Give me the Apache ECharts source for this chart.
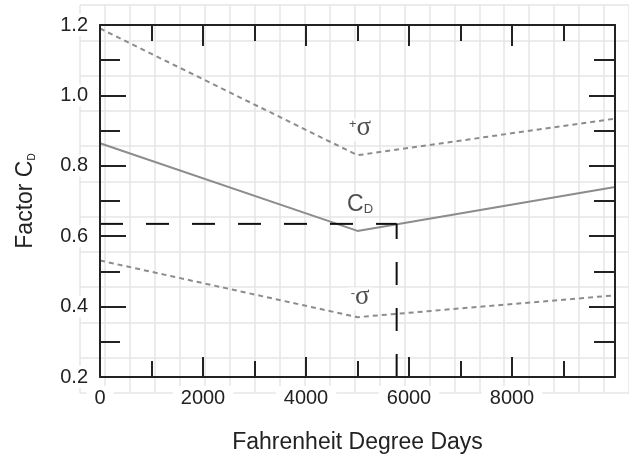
<!DOCTYPE html>
<html>
<head>
<meta charset="utf-8">
<script src="https://cdn.jsdelivr.net/npm/echarts@6/dist/echarts.min.js"></script>
<style>
html, body { margin: 0; padding: 0; background: #fff; }
#chart { width: 629px; height: 459px; }
</style>
</head>
<body>
<div id="chart"></div>
<script>
// 数据：横轴为华氏度日，纵轴为系数 CD
const degreeDays = [0, 5000, 10000];
const factorCD = [0.864, 0.615, 0.74];
const plusSigma = [1.19, 0.83, 0.934];
const minusSigma = [0.531, 0.37, 0.432];
// 读数示例（虚线）
const readDays = 5760;
const readFactor = 0.635;
// 曲线旁的标注
const noteTexts = ['{sup|+}{s|σ}', '{c|C}{sub|D}', '{sup|-}{s|σ}'];
const noteDays = [5050, 5050, 5050];
const noteFactor = [0.903, 0.690, 0.422];
// 横轴显示的刻度文字
const xLabels = [0, 2000, 4000, 6000, 8000];

const ink = '#222';
const font = '"Liberation Sans", Arial, sans-serif';

const pairs = (xs, ys) => xs.map((x, i) => [x, ys[i]]);

const chart = echarts.init(document.getElementById('chart'), null, { renderer: 'canvas' });

// 坐标轴公共样式（边框、朝内的刻度）
function frameAxis(extra) {
    return Object.assign({
        type: 'value',
        gridIndex: 0,
        z: 3,
        axisLine: { show: true, onZero: false, lineStyle: { color: ink, width: 2 } },
        splitLine: { show: false }
    }, extra);
}

const option = {
    animation: false,
    backgroundColor: '#fff',
    grid: [
        { left: 96, top: 25, right: 14, bottom: 80 },
        // 背景方格纸
        { left: 80, top: 5, width: 555.3, height: 388 }
    ],
    xAxis: [
        frameAxis({
            position: 'bottom',
            min: 0, max: 10000, interval: 2000,
            axisTick: { show: true, inside: true, length: 20, lineStyle: { color: ink, width: 2 } },
            minorTick: { show: true, splitNumber: 2, length: 16, lineStyle: { color: ink, width: 2 } },
            axisLabel: {
                margin: 9,
                color: ink, fontSize: 20, fontFamily: font,
                backgroundColor: '#fff', padding: [2, 8],
                formatter: v => xLabels.indexOf(v) >= 0 ? String(v) : ''
            },
            name: 'Fahrenheit Degree Days',
            nameLocation: 'middle',
            nameGap: 54,
            nameTextStyle: { color: ink, fontSize: 23, fontFamily: font }
        }),
        frameAxis({
            position: 'top',
            min: 0, max: 10000, interval: 2000,
            axisTick: { show: true, inside: true, length: 21, lineStyle: { color: ink, width: 2 } },
            minorTick: { show: true, splitNumber: 2, length: 16, lineStyle: { color: ink, width: 2 } },
            axisLabel: { show: false }
        }),
        {
            type: 'value', gridIndex: 1, min: 0, max: 22, interval: 1, z: 0,
            axisLine: { show: false }, axisTick: { show: false }, axisLabel: { show: false },
            splitLine: { show: true, lineStyle: { color: '#e6e6e6', width: 1.5 } }
        }
    ],
    yAxis: [
        frameAxis({
            position: 'left',
            min: 0.2, max: 1.2, interval: 0.2,
            axisTick: { show: true, inside: true, length: 26, lineStyle: { color: ink, width: 2 } },
            minorTick: { show: true, splitNumber: 2, length: 20, lineStyle: { color: ink, width: 2 } },
            axisLabel: {
                margin: 9,
                color: ink, fontSize: 20, fontFamily: font,
                backgroundColor: '#fff', padding: [1, 3],
                formatter: v => v.toFixed(1)
            },
            name: '{m|Factor C}{sub|D}',
            nameLocation: 'middle',
            nameRotate: 90,
            nameGap: 63,
            nameTextStyle: {
                rich: {
                    m: { fontSize: 23, fontFamily: font, color: ink, lineHeight: 23, verticalAlign: 'top' },
                    sub: { fontSize: 10, fontFamily: font, color: ink, lineHeight: 10, padding: [19, 0, 0, 0], verticalAlign: 'bottom' }
                }
            }
        }),
        frameAxis({
            position: 'right',
            min: 0.2, max: 1.2, interval: 0.2,
            axisTick: { show: true, inside: true, length: 26, lineStyle: { color: ink, width: 2 } },
            minorTick: { show: true, splitNumber: 2, length: 21, lineStyle: { color: ink, width: 2 } },
            axisLabel: { show: false }
        }),
        {
            type: 'value', gridIndex: 1, min: 0, max: 11, interval: 1, z: 0,
            axisLine: { show: false }, axisTick: { show: false }, axisLabel: { show: false },
            splitLine: { show: true, lineStyle: { color: '#e6e6e6', width: 1.5 } }
        }
    ],
    series: [
        {
            name: '+σ', type: 'line', xAxisIndex: 0, yAxisIndex: 0,
            data: pairs(degreeDays, plusSigma), showSymbol: false, symbol: 'none',
            lineStyle: { color: '#8c8c8c', width: 2, type: [5, 4] }, z: 2
        },
        {
            name: 'CD', type: 'line', xAxisIndex: 0, yAxisIndex: 0,
            data: pairs(degreeDays, factorCD), showSymbol: false, symbol: 'none',
            lineStyle: { color: '#8c8c8c', width: 2 }, z: 2
        },
        {
            name: '-σ', type: 'line', xAxisIndex: 0, yAxisIndex: 0,
            data: pairs(degreeDays, minusSigma), showSymbol: false, symbol: 'none',
            lineStyle: { color: '#8c8c8c', width: 2, type: [5, 4] }, z: 2
        },
        {
            // 横向读数线
            type: 'line', xAxisIndex: 0, yAxisIndex: 0,
            data: [[0, readFactor], [readDays, readFactor]], symbol: 'none',
            lineStyle: { color: '#111', width: 2, type: [23, 23] }, z: 2
        },
        {
            // 纵向读数线，从底边往上画
            type: 'line', xAxisIndex: 0, yAxisIndex: 0,
            data: [[readDays, 0.2], [readDays, readFactor]], symbol: 'none',
            lineStyle: { color: '#111', width: 2, type: [23, 23] }, z: 2
        },
        {
            // 标注文字
            type: 'scatter', xAxisIndex: 0, yAxisIndex: 0, symbolSize: 0, z: 4,
            data: noteDays.map((d, i) => ({ value: [d, noteFactor[i]], text: noteTexts[i] })),
            label: {
                show: true, position: 'inside',
                backgroundColor: '#fff', padding: [0, 3],
                formatter: p => p.data.text,
                rich: {
                    sup: { fontSize: 13, fontFamily: font, color: ink, lineHeight: 13, verticalAlign: 'top' },
                    s: { fontSize: 27, fontFamily: '"Liberation Serif", serif', color: ink, lineHeight: 23, verticalAlign: 'bottom' },
                    c: { fontSize: 23, fontFamily: font, color: ink, lineHeight: 23, verticalAlign: 'top' },
                    sub: { fontSize: 13, fontFamily: font, color: ink, lineHeight: 11, padding: [15, 0, 0, 0], verticalAlign: 'bottom' }
                }
            },
            emphasis: { disabled: true }
        }
    ]
};

chart.setOption(option);
</script>
</body>
</html>
